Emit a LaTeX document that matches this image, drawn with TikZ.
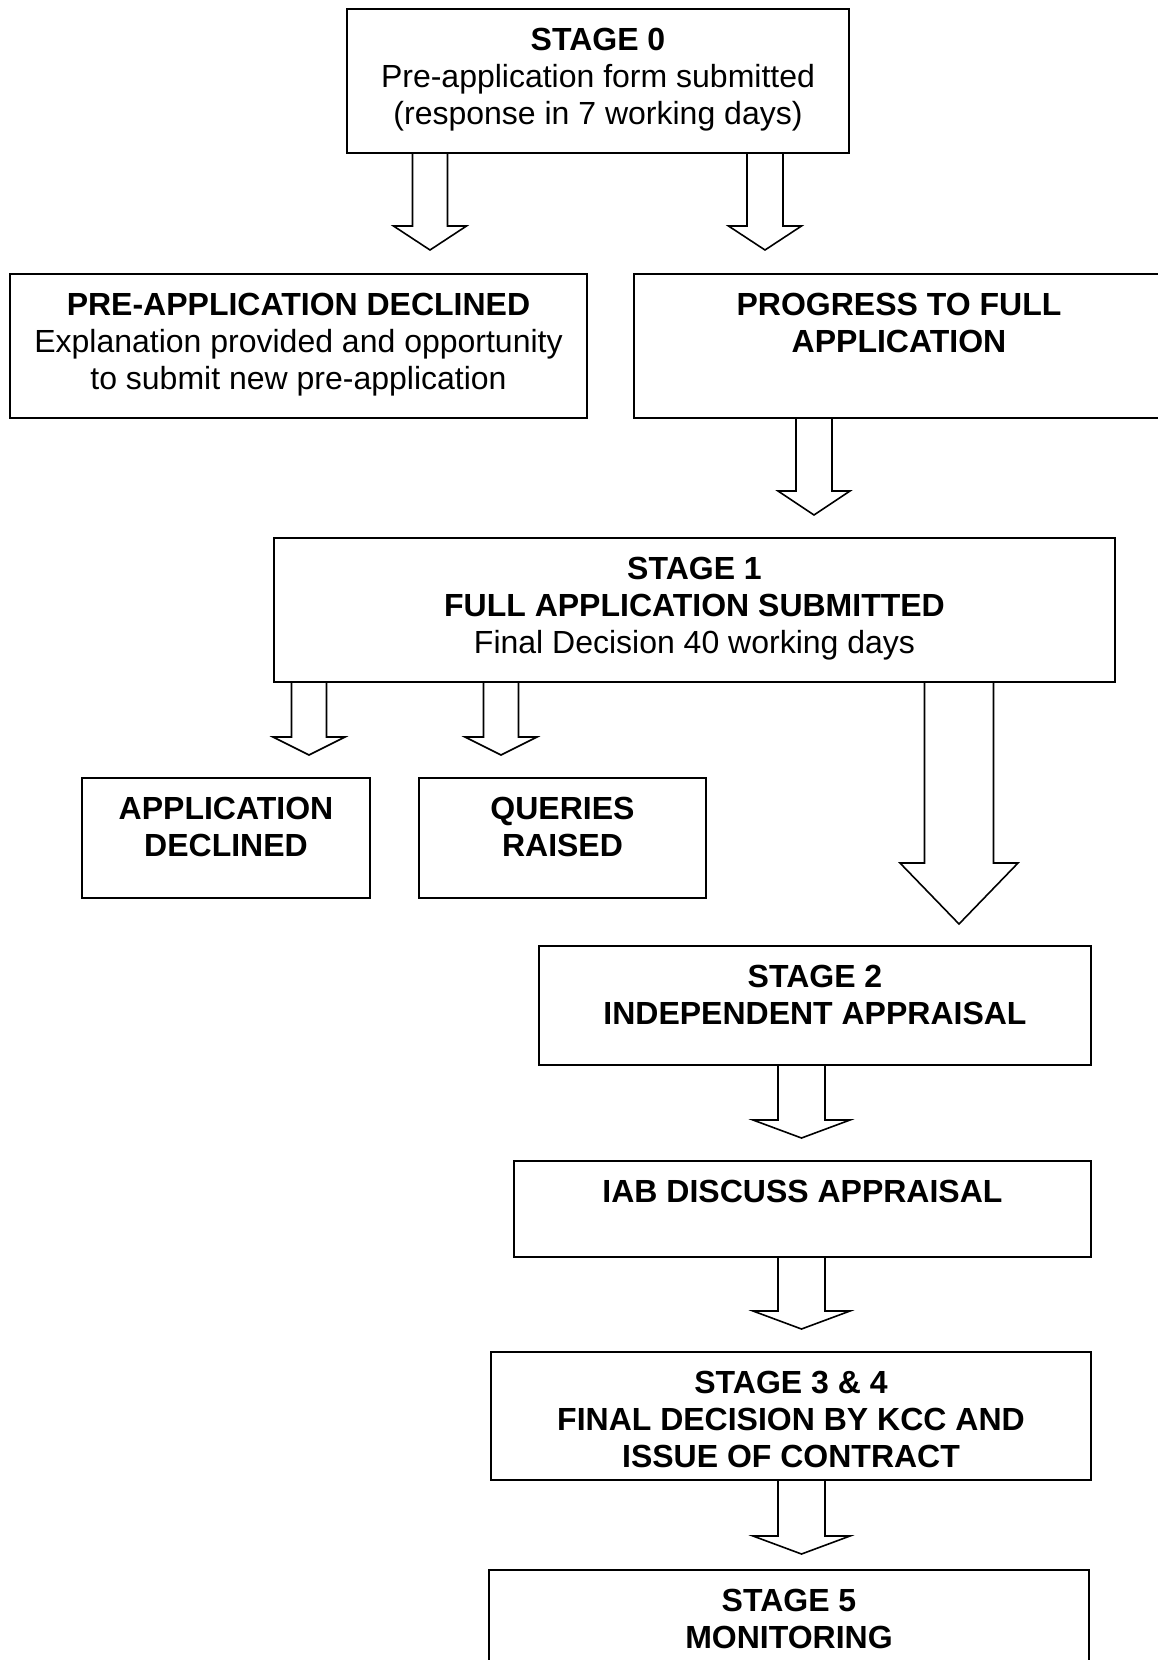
\documentclass[tikz,border=0pt]{standalone}
\usepackage{fontspec}
\setmainfont{Liberation Sans}
\newcommand{\topstrut}{\rule{0pt}{20.75pt}}
\newcommand{\boxtext}[3]{\parbox[c][#2pt][t]{#1pt}{\centering\topstrut #3}}
\newcommand{\hollowdown}[5]{\draw[arrowline] (#1) ++(-#4,0) -- ++(0,#2) -- ++({#4-#5},0) -- ++(#5,#3) -- ++(#5,-#3) -- ++({#4-#5},0) -- ++(0,-#2);}
\begin{document}
\begin{tikzpicture}[x=0.5pt,y=-0.5pt,
  stagebox/.style={draw,line width=1pt,inner sep=0pt,anchor=north west,
    font=\fontsize{16pt}{18.5pt}\selectfont},
  arrowline/.style={line width=0.8pt,line join=miter}]
\useasboundingbox (0,0) rectangle (1157,1660);
\node[stagebox] (s0) at (346,8) {\boxtext{251}{72}{\textbf{STAGE 0}\\Pre-application form submitted\\(response in 7 working days)}};
\node[stagebox] (predecl) at (9,273) {\boxtext{288.5}{72}{\textbf{PRE-APPLICATION DECLINED}\\Explanation provided and opportunity\\to submit new pre-application}};
\node[stagebox] (prog) at (633,273) {\boxtext{265}{72}{\textbf{PROGRESS TO FULL}\\\textbf{APPLICATION}}};
\node[stagebox] (s1) at (273,537) {\boxtext{420.5}{72}{\textbf{STAGE 1}\\\textbf{FULL APPLICATION SUBMITTED}\\Final Decision 40 working days}};
\node[stagebox] (appdecl) at (81,777) {\boxtext{144}{60}{\textbf{APPLICATION}\\\textbf{DECLINED}}};
\node[stagebox] (queries) at (418,777) {\boxtext{143.5}{60}{\textbf{QUERIES}\\\textbf{RAISED}}};
\node[stagebox] (s2) at (538,945) {\boxtext{276}{59.5}{\textbf{STAGE 2}\\\textbf{INDEPENDENT APPRAISAL}}};
\node[stagebox] (iab) at (513,1160) {\boxtext{288.5}{48}{\textbf{IAB DISCUSS APPRAISAL}}};
\node[stagebox] (s34) at (490,1351) {\boxtext{300}{64}{\textbf{STAGE 3 \& 4}\\\textbf{FINAL DECISION BY KCC AND}\\\textbf{ISSUE OF CONTRACT}}};
\node[stagebox] (s5) at (488,1569) {\boxtext{300}{80}{\textbf{STAGE 5}\\\textbf{MONITORING}}};
\coordinate (s0l) at (430,0 |- s0.south);
\coordinate (s0r) at (765,0 |- s0.south);
\coordinate (progd) at (814,0 |- prog.south);
\coordinate (s1l) at (309,0 |- s1.south);
\coordinate (s1m) at (501,0 |- s1.south);
\coordinate (s1r) at (959,0 |- s1.south);
\coordinate (s2d) at (801.5,0 |- s2.south);
\coordinate (iabd) at (801.5,0 |- iab.south);
\coordinate (s34d) at (801.5,0 |- s34.south);
\hollowdown{s0l}{72}{24}{17.5}{36.5}
\hollowdown{s0r}{72}{24}{18}{36.5}
\hollowdown{progd}{72}{24}{18}{36}
\hollowdown{s1l}{54}{18}{17.5}{36}
\hollowdown{s1m}{54}{18}{17.5}{36}
\hollowdown{s1r}{180}{61}{34.5}{59}
\hollowdown{s2d}{54}{18}{23.5}{48.5}
\hollowdown{iabd}{53}{18}{23.5}{48.5}
\hollowdown{s34d}{55}{18}{23.5}{48.5}
\end{tikzpicture}
\end{document}
